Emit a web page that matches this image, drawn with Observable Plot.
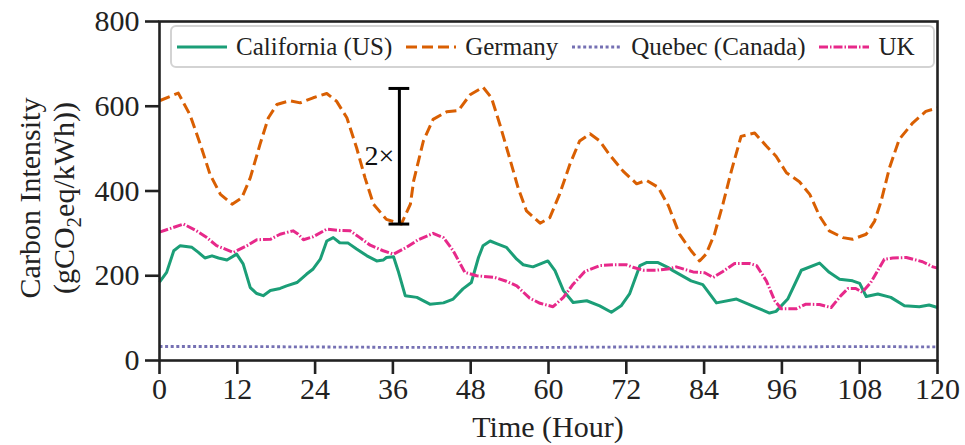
<!DOCTYPE html>
<html>
<head>
<meta charset="utf-8">
<script src="https://cdn.jsdelivr.net/npm/d3@7"></script>
<script src="https://cdn.jsdelivr.net/npm/@observablehq/plot@0.6"></script>
<style>
  html, body { margin: 0; padding: 0; background: #fff; }
  #wrap { position: relative; width: 965px; height: 445px; }
  #legend {
    position: absolute; left: 170px; top: 25px; width: 756px; height: 39px;
    border: 2px solid #d3d3d3; border-radius: 6px; background: rgba(255,255,255,0.85);
    display: flex; align-items: center; padding-left: 5px; box-sizing: content-box;
    font-family: "Liberation Serif", "Times New Roman", serif; font-size: 25px; color: #222;
  }
  .entry { display: flex; align-items: center; margin-right: 14px; white-space: nowrap; }
  .entry svg { margin-right: 9px; }
</style>
</head>
<body>
<div id="wrap"></div>
<script>
// ---- Data ----
const seriesNames = ["California (US)", "Germany", "Quebec (Canada)", "UK"];
const seriesColors = ["#1b9e77", "#d95f02", "#7570b3", "#e7298a"];
const seriesDashes = [null, "11,5", "3,2.6", "9,2,1.5,2"];

const californiaHours = [0,1.1,2.2,3.2,5.0,6.0,7.0,8.1,9.1,10.4,11.9,12.9,14.0,15.0,16.0,17.1,18.6,19.6,21.2,22.7,23.7,24.8,25.8,26.8,27.8,29.1,30.4,32.0,33.5,34.5,35.0,36.1,36.8,37.9,39.7,41.7,43.8,45.3,46.8,48.1,49.2,49.9,51.0,52.0,53.5,55.1,56.1,57.6,59.9,61.0,62.3,63.8,65.9,67.9,69.7,71.2,72.5,74.1,75.1,76.9,78.4,79.2,82.0,83.8,85.9,89.0,92.1,94.1,95.1,96.9,99.0,101.8,103.3,104.9,106.9,108.0,109.0,110.8,112.8,114.9,117.2,118.7,120];
const californiaValues = [185,208,259,271,267,255,242,247,242,237,251,228,172,158,153,165,170,176,184,204,216,239,282,290,278,277,263,247,235,237,243,245,212,153,149,133,136,145,169,184,243,271,282,276,267,239,226,221,235,212,165,137,141,129,114,129,157,224,231,231,220,212,188,179,136,145,125,112,116,145,213,230,208,192,188,182,151,157,149,129,127,131,125];

const germanyHours = [0,2.9,4.7,6.3,7.8,9.4,11.2,12.7,14.0,15.5,16.8,18.1,20.1,21.7,23.7,25.8,27.3,28.9,30.4,31.7,33.0,35.0,37.3,38.7,39.2,40.7,42.2,44.3,46.1,47.9,49.9,51.2,52.5,54.0,55.3,56.6,58.7,60.2,61.7,63.3,64.8,66.4,67.9,69.4,71.5,73.6,75.1,76.9,78.5,80.2,82.0,83.3,84.3,85.6,86.9,88.2,89.7,91.8,93.6,95.1,96.7,98.7,100.3,101.8,103.3,105.4,106.9,109.0,110.3,111.3,112.6,114.1,116.2,118.2,120];
const germanyValues = [613,631,580,510,439,392,369,384,431,510,573,604,613,608,620,630,612,573,502,431,369,333,322,369,424,518,569,587,590,627,645,620,557,478,408,353,324,337,392,463,518,535,518,486,447,417,425,409,365,298,259,235,251,298,369,447,529,537,506,482,443,422,392,341,306,290,286,298,329,376,455,522,561,588,596];

const quebecHours = [0,12,24,36,48,60,72,84,96,108,120];
const quebecValues = [33,33,32,31,31,31,32,32,32,33,32];

const ukHours = [0,3.7,5.7,7.3,8.8,11.4,13.5,15.0,17.1,18.6,20.6,21.4,22.2,23.7,25.8,27.8,29.4,30.9,32.5,34.5,36.1,38.1,39.8,42.2,43.8,45.3,47.1,48.9,51.7,53.5,55.1,57.1,58.7,60.7,62.3,63.8,65.6,67.9,70.0,72.0,73.0,74.6,76.6,78.4,79.7,82.3,84.1,85.4,86.9,88.7,91.0,92.1,93.6,94.9,95.9,98.2,99.7,101.8,103.6,105.1,106.2,107.4,108.4,109.7,111.8,113.1,115.2,117.7,119.3,120];
const ukValues = [303,322,306,290,271,255,271,285,286,298,306,298,285,292,310,307,306,290,272,259,251,267,284,300,290,259,208,200,196,187,176,147,135,127,149,180,210,224,226,226,220,213,213,216,221,209,207,196,210,229,229,224,188,141,122,122,133,132,125,153,170,170,161,184,239,242,243,233,221,218];

const xTicks = [0,12,24,36,48,60,72,84,96,108,120];
const yTicks = [0,200,400,600,800];
const xLabel = "Time (Hour)";
const yLabelLine1 = "Carbon Intensity";

// 2x annotation
const annotHour = [37];
const annotLow = [322];
const annotHigh = [642];
const annotText = ["2×"];
const capHalfHours = 1.6;

// ---- Build table ----
const hoursBySeries = [californiaHours, germanyHours, quebecHours, ukHours];
const valuesBySeries = [californiaValues, germanyValues, quebecValues, ukValues];
const tables = hoursBySeries.map((hs, i) => hs.map((h, j) => ({series: seriesNames[i], hour: h, value: valuesBySeries[i][j]})));

const font = "'Liberation Serif', 'Times New Roman', serif";
const annot = annotHour.map((h, i) => ({hour: h, low: annotLow[i], high: annotHigh[i], mid: (annotLow[i] + annotHigh[i]) / 2, text: annotText[i]}));

const lineMarks = tables.map((t, i) => Plot.line(t, {
  x: "hour", y: "value", stroke: seriesColors[i], strokeWidth: i === 2 ? 2.8 : 3,
  strokeDasharray: seriesDashes[i] ?? undefined, strokeLinecap: "butt", strokeLinejoin: "round", curve: "linear"
}));

const svg = Plot.plot({
  width: 965, height: 445,
  marginLeft: 159, marginRight: 28, marginTop: 21, marginBottom: 85,
  x: {domain: [0, 120]},
  y: {domain: [0, 800]},
  style: {fontFamily: font, fontSize: "30px", color: "#222", background: "white", overflow: "visible"},
  marks: [
    Plot.axisX({ticks: xTicks, tickSize: 14, tickPadding: 3, strokeWidth: 2.6, stroke: "#222", label: null, fontSize: 30}),
    Plot.axisY({ticks: yTicks, tickSize: 14, tickPadding: 6, strokeWidth: 2.6, stroke: "#222", label: null, fontSize: 30}),
    ...lineMarks,
    Plot.frame({stroke: "#222", strokeWidth: 2.6}),
    Plot.ruleX(annot, {x: "hour", y1: "low", y2: "high", stroke: "black", strokeWidth: 3}),
    Plot.ruleY(annot, {y: "low", x1: d => d.hour - capHalfHours, x2: d => d.hour + capHalfHours, stroke: "black", strokeWidth: 3}),
    Plot.ruleY(annot, {y: "high", x1: d => d.hour - capHalfHours, x2: d => d.hour + capHalfHours, stroke: "black", strokeWidth: 3}),
    Plot.text(annot, {x: "hour", y: "mid", text: "text", textAnchor: "end", dx: -5, fontSize: 28, fill: "#111"})
  ]
});

// axis titles
const g = d3.select(svg).append("g").attr("font-family", font).attr("font-size", 30).attr("fill", "#222");
g.append("text").attr("x", 548).attr("y", 437).attr("text-anchor", "middle").text(xLabel);
g.append("text").attr("transform", "translate(40,198) rotate(-90)").attr("text-anchor", "middle").text(yLabelLine1);
const l2 = g.append("text").attr("transform", "translate(74,198) rotate(-90)").attr("text-anchor", "middle");
l2.append("tspan").text("(gCO");
l2.append("tspan").attr("font-size", 21).attr("dy", 7).text("2");
l2.append("tspan").attr("dy", -7).text("eq/kWh))");

const wrap = document.getElementById("wrap");
wrap.appendChild(svg);

// legend
const legend = document.createElement("div");
legend.id = "legend";
seriesNames.forEach((name, i) => {
  const e = document.createElement("div");
  e.className = "entry";
  const dash = seriesDashes[i] ? `stroke-dasharray="${seriesDashes[i]}"` : "";
  e.innerHTML = `<svg width="50" height="10"><line x1="0" y1="5" x2="50" y2="5" stroke="${seriesColors[i]}" stroke-width="3" ${dash}/></svg><span>${name}</span>`;
  legend.appendChild(e);
});
wrap.appendChild(legend);
</script>
</body>
</html>
